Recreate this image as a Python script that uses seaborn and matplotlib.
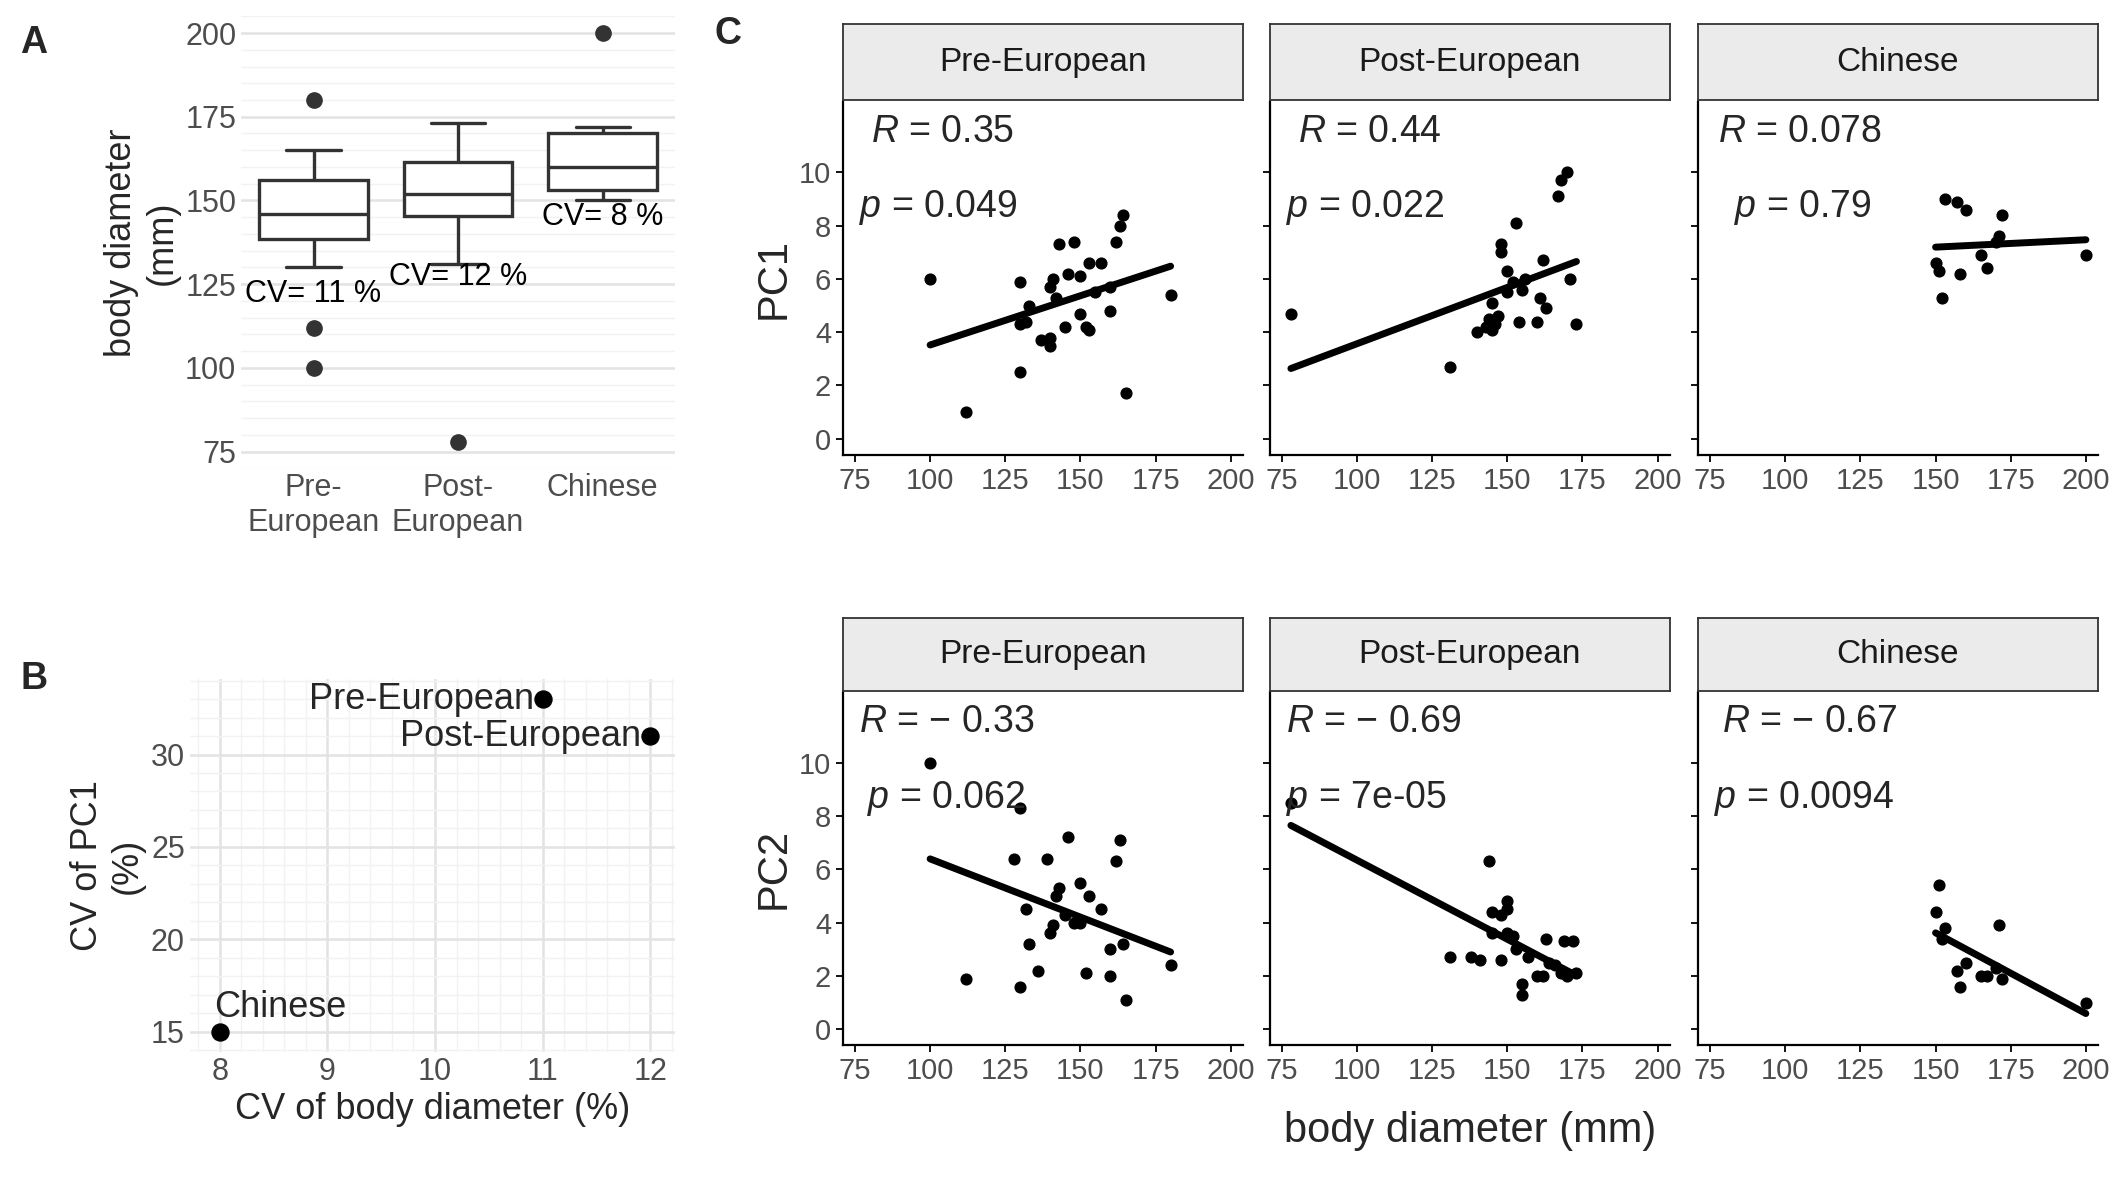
import matplotlib
matplotlib.use("Agg")
import matplotlib.pyplot as plt
import pandas as pd
import seaborn as sns

# ---- data ----
groups = ["Pre-European", "Post-European", "Chinese"]
group_ticks = ["Pre-\nEuropean", "Post-\nEuropean", "Chinese"]

pre_x1 = [100, 112, 130, 130, 130, 132, 133, 137, 140, 140, 140, 141, 142, 143, 145, 146,
          148, 150, 150, 152, 153, 153, 155, 157, 160, 160, 162, 163, 164, 165, 180]
pre_pc1 = [6.0, 1.0, 4.3, 2.5, 5.9, 4.4, 5.0, 3.7, 3.5, 5.7, 3.8, 6.0, 5.3, 7.3, 4.2, 6.2,
           7.4, 4.7, 6.1, 4.2, 4.1, 6.6, 5.5, 6.6, 4.8, 5.7, 7.4, 8.0, 8.4, 1.7, 5.4]
pre_x2 = [100, 112, 128, 130, 130, 132, 133, 136, 139, 140, 141, 142, 143, 145, 146, 148,
          150, 150, 152, 153, 157, 160, 160, 162, 163, 164, 165, 180]
pre_pc2 = [10.0, 1.9, 6.4, 8.3, 1.6, 4.5, 3.2, 2.2, 6.4, 3.6, 3.9, 5.0, 5.3, 4.3, 7.2, 4.0,
           5.5, 4.0, 2.1, 5.0, 4.5, 2.0, 3.0, 6.3, 7.1, 3.2, 1.1, 2.4]

post_x1 = [78, 131, 140, 143, 144, 145, 145, 146, 147, 148, 148, 150, 150, 152, 153, 154,
           155, 156, 160, 161, 162, 163, 167, 168, 170, 171, 173]
post_pc1 = [4.7, 2.7, 4.0, 4.2, 4.5, 4.1, 5.1, 4.3, 4.6, 7.3, 7.0, 6.3, 5.5, 5.9, 8.1, 4.4,
            5.6, 6.0, 4.4, 5.3, 6.7, 4.9, 9.1, 9.7, 10.0, 6.0, 4.3]
post_x2 = [78, 131, 138, 141, 144, 145, 145, 148, 148, 150, 150, 150, 152, 153, 155, 155,
           157, 160, 162, 163, 164, 166, 168, 169, 170, 172, 173]
post_pc2 = [8.5, 2.7, 2.7, 2.6, 6.3, 4.4, 3.6, 2.6, 4.3, 4.8, 3.6, 4.5, 3.5, 3.0, 1.3, 1.7,
            2.7, 2.0, 2.0, 3.4, 2.5, 2.4, 2.1, 3.3, 2.0, 3.3, 2.1]

chi_x = [150, 151, 152, 153, 157, 158, 160, 165, 167, 170, 171, 172, 200]
chi_pc1 = [6.6, 6.3, 5.3, 9.0, 8.9, 6.2, 8.6, 6.9, 6.4, 7.4, 7.6, 8.4, 6.9]
chi_pc2 = [4.4, 5.4, 3.4, 3.8, 2.2, 1.6, 2.5, 2.0, 2.0, 2.3, 3.9, 1.9, 1.0]

cv_body = [11, 12, 8]
cv_pc1 = [33, 31, 15]
cv_labels = ["CV= 11 %", "CV= 12 %", "CV= 8 %"]

r_pc1 = ["0.35", "0.44", "0.078"]
p_pc1 = ["0.049", "0.022", "0.79"]
r_pc2 = ["\u2212 0.33", "\u2212 0.69", "\u2212 0.67"]
p_pc2 = ["0.062", "7e-05", "0.0094"]

sns.set_theme(style="white")
plt.rcParams["font.family"] = ["Liberation Sans", "DejaVu Sans"]
plt.rcParams["mathtext.fontset"] = "custom"
plt.rcParams["mathtext.it"] = "Liberation Sans:italic"

W, H = 1568, 870
fig = plt.figure(figsize=(21.25, 11.81), dpi=100)


def box(x0, y0, x1, y1):
    return [x0 / W, 1 - y1 / H, (x1 - x0) / W, (y1 - y0) / H]


def minimal(ax):
    ax.set_facecolor("white")
    for s in ax.spines.values():
        s.set_visible(False)
    ax.minorticks_on()
    ax.grid(True, which="major", color="#e3e3e3", lw=1.8)
    ax.grid(True, which="minor", color="#f2f2f2", lw=1.0)
    ax.tick_params(which="both", labelsize=22, colors="#4d4d4d", length=0)


# ---- A ----
axA = fig.add_axes(box(178, 12, 498, 345))
body = pd.DataFrame({
    "group": ["Pre-European"] * len(pre_x1) + ["Post-European"] * len(post_x1) + ["Chinese"] * len(chi_x),
    "diam": pre_x1 + post_x1 + chi_x,
})
minimal(axA)
sns.boxplot(data=body, x="group", y="diam", order=groups, ax=axA, color="white",
            width=0.75, linewidth=2.4, linecolor="#333333", whis=1.0,
            flierprops=dict(marker="o", markerfacecolor="#333333", markeredgecolor="#333333", markersize=11))
for i, t in enumerate(cv_labels):
    ys = [122, 127, 145][i]
    axA.text(i, ys, t, fontsize=22, ha="center", va="center", color="black")
axA.set_ylim(70, 205)
axA.set_yticks([75, 100, 125, 150, 175, 200])
axA.set_xticks(range(3))
axA.set_xticklabels(group_ticks)
axA.minorticks_on()
axA.tick_params(axis="x", which="minor", bottom=False)
axA.set_xticks([], minor=True)
axA.grid(True, which="minor", axis="y", color="#f2f2f2", lw=1.0)
axA.set_xlabel("")
axA.set_ylabel("body diameter\n(mm)", fontsize=26)
fig.text(15 / W, 1 - 32 / H, "A", fontsize=27, weight="bold", va="center")

# ---- B ----
axB = fig.add_axes(box(140, 500, 498, 775))
minimal(axB)
sns.scatterplot(x=cv_body, y=cv_pc1, ax=axB, color="black", s=150, edgecolor="black")
offs = [(-0.08, 0.0, "right"), (-0.08, 0.0, "right"), (-0.05, 1.3, "left")]
for xv, yv, lab, (dx, dy, ha) in zip(cv_body, cv_pc1, groups, offs):
    axB.text(xv + dx, yv + dy, lab, fontsize=26, ha=ha, va="center")
axB.set_xlim(7.72, 12.23)
axB.set_ylim(13.9, 34.1)
axB.set_xticks([8, 9, 10, 11, 12])
axB.set_yticks([15, 20, 25, 30])
axB.set_xlabel("CV of body diameter (%)", fontsize=26)
axB.set_ylabel("CV of PC1\n(%)", fontsize=26)
fig.text(15 / W, 1 - 500 / H, "B", fontsize=27, weight="bold", va="center")

# ---- C ----
fig.text(527 / W, 1 - 25 / H, "C", fontsize=27, weight="bold", va="center")
cols = [(622, 917), (937, 1232), (1253, 1548)]
rows = [(18, 75, 335, "PC1"), (455, 510, 770, "PC2")]
xs_rows = [[pre_x1, post_x1, chi_x], [pre_x2, post_x2, chi_x]]
ys_rows = [[pre_pc1, post_pc1, chi_pc1], [pre_pc2, post_pc2, chi_pc2]]
rs = [r_pc1, r_pc2]
ps = [p_pc1, p_pc2]
r_x = [[0.07, 0.07, 0.05], [0.04, 0.04, 0.06]]
p_x = [[0.04, 0.04, 0.09], [0.06, 0.04, 0.04]]
for ri, (st, p0, p1, lab) in enumerate(rows):
    for ci, (x0, x1) in enumerate(cols):
        ax = fig.add_axes(box(x0, p0, x1, p1))
        sax = fig.add_axes(box(x0, st, x1, p0 - 1))
        sax.set_facecolor("#ebebeb")
        sax.set_xticks([]); sax.set_yticks([])
        for s in sax.spines.values():
            s.set_color("#333333"); s.set_linewidth(1.3)
        sax.text(0.5, 0.5, groups[ci], ha="center", va="center", fontsize=24, color="#1a1a1a")
        sns.regplot(x=xs_rows[ri][ci], y=ys_rows[ri][ci], ax=ax, ci=None, color="black",
                    scatter_kws=dict(s=60, alpha=1), line_kws=dict(lw=5))
        ax.set_facecolor("white")
        for s in ["top", "right"]:
            ax.spines[s].set_visible(False)
        for s in ["left", "bottom"]:
            ax.spines[s].set_color("black"); ax.spines[s].set_linewidth(1.6)
        ax.set_xlim(71, 204)
        ax.set_ylim(-0.6, 12.65)
        ax.set_xticks([75, 100, 125, 150, 175, 200])
        ax.set_yticks([0, 2, 4, 6, 8, 10])
        ax.tick_params(labelsize=21, colors="black", length=5, width=1.3, direction="out",
                       bottom=True, left=True)
        ax.tick_params(labelcolor="#4d4d4d")
        if ci > 0:
            ax.set_yticklabels([])
        ax.set_ylabel(lab if ci == 0 else "", fontsize=30)
        ax.set_xlabel("")
        ax.text(r_x[ri][ci], 0.915, f"$R$ = {rs[ri][ci]}", transform=ax.transAxes, fontsize=27, va="center")
        ax.text(p_x[ri][ci], 0.70, f"$p$ = {ps[ri][ci]}", transform=ax.transAxes,
                fontsize=27, va="center")
fig.text(1085 / W, 1 - 833 / H, "body diameter (mm)", fontsize=30, ha="center", va="center")

fig.savefig("out.png", dpi=100)
